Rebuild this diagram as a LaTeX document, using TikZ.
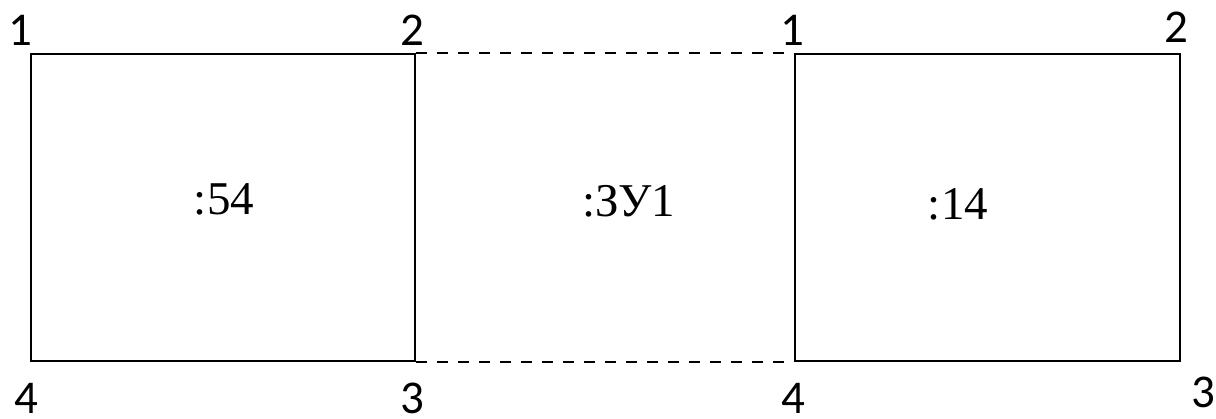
\documentclass[tikz,border=0pt]{standalone}
\usepackage{fontspec}
\setmainfont{Liberation Serif}
\newfontfamily\numfont{Carlito}
\usetikzlibrary{positioning}

\begin{document}
\begin{tikzpicture}[
    x=1pt, y=-1pt,
    cell/.style={draw, line width=2pt, minimum width=384pt, minimum height=307pt, inner sep=0pt},
    dashline/.style={line width=2pt, dash pattern=on 11pt off 10pt},
    cornernum/.style={anchor=base, font=\numfont\fontsize{47}{50}\selectfont, inner sep=0pt, text depth=0pt},
    celltext/.style={anchor=base, font=\fontsize{47}{50}\selectfont, inner sep=0pt},
  ]
  \useasboundingbox (0,0) rectangle (1216,419);

  % Cells
  \node[cell] (left) at (223,208) {};
  \node[cell, minimum width=385pt] (right) at (987.5,208) {};

  % Link between the cells
  \draw[dashline] (left.north east) -- (right.north west);
  \draw[dashline] (left.south east) -- (right.south west);

  % Names
  \node[celltext] (n54) at (224,215) {:54};
  \node[celltext] (nzu) at (629,217) {:ЗУ1};
  \node[celltext] (n14) at (958,220) {:14};

  % Corner numbers
  \node[cornernum] (l1) at (20,46) {1};
  \node[cornernum] (l2) at (412,46) {2};
  \node[cornernum] (l4) at (26,414) {4};
  \node[cornernum] (l3) at (412,414) {3};
  \node[cornernum] (r1) at (792,46) {1};
  \node[cornernum] (r2) at (1176,43) {2};
  \node[cornernum] (r4) at (793,414) {4};
  \node[cornernum] (r3) at (1203,408) {3};
\end{tikzpicture}
\end{document}
